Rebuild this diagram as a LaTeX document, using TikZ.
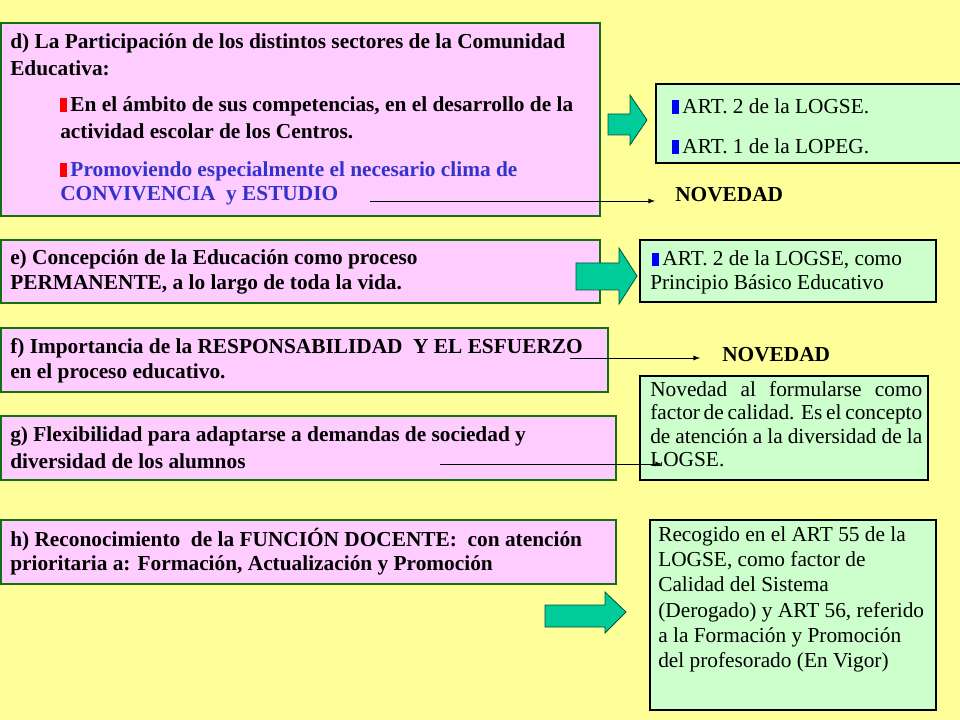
\documentclass[tikz,border=0pt]{standalone}
\usepackage{fontspec}
\setmainfont{Liberation Serif}
\definecolor{bgy}{RGB}{255,255,153}
\definecolor{pinkf}{RGB}{255,204,255}
\definecolor{greenf}{RGB}{204,255,204}
\definecolor{gborder}{RGB}{20,110,20}
\definecolor{teal}{RGB}{0,204,153}
\definecolor{purp}{RGB}{51,51,204}
\begin{document}
\begin{tikzpicture}[x=0.75pt,y=-0.75pt,
  pbox/.style={draw=gborder,line width=2.2pt,fill=pinkf},
  gbox/.style={draw=black,line width=1.5pt,fill=greenf},
  txt/.style={anchor=west,inner sep=0pt,font=\fontsize{16}{18}\selectfont\bfseries},
  rtxt/.style={anchor=west,inner sep=0pt,font=\fontsize{16}{18}\selectfont},
  fat/.style={fill=teal,draw=black!60!teal,line width=0.6pt},
  thin/.style={-latex,line width=0.7pt}]
\fill[bgy] (0,0) rectangle (960,720);
\useasboundingbox (0,0) rectangle (960,720);
\newcommand{\rb}{\textcolor{red}{\rule[-0.5pt]{5pt}{10pt}}\,}
\newcommand{\bb}{\textcolor{blue}{\rule[-0.5pt]{5pt}{10pt}}\,}
% boxes
\draw[pbox] (1,23) rectangle (600,216);
\draw[pbox] (1,240) rectangle (600,303);
\draw[pbox] (1,328) rectangle (608,392);
\draw[pbox] (1,416) rectangle (616,480);
\draw[pbox] (1,520) rectangle (616,584);
\draw[gbox] (656,84) rectangle (962,163);
\draw[gbox] (640,240) rectangle (936,302);
\draw[gbox] (640,376) rectangle (928,480);
\draw[gbox] (650,520) rectangle (936,710);
% fat arrows
\draw[fat] (608,114)--(630,114)--(630,95)--(647,120)--(630,145)--(630,135)--(608,135)--cycle;
\draw[fat] (576,263)--(619,263)--(619,248)--(637,276)--(619,304)--(619,290)--(576,290)--cycle;
\draw[fat] (545,605)--(605,605)--(605,592)--(626,612)--(605,633)--(605,627)--(545,627)--cycle;
% d texts
\node[txt] (d1) at (10,43) {d) La Participación de los distintos sectores de la Comunidad};
\node[txt] (d2) at (10,68) {Educativa:};
\node[txt] (d3) at (60,106) {\rb En el ámbito de sus competencias, en el desarrollo de la};
\node[txt] (d4) at (60,131) {actividad escolar de los Centros.};
\node[txt,text=purp] (d5) at (60,171) {\rb Promoviendo especialmente el necesario clima de};
\node[txt,text=purp] (d6) at (60,196) {CONVIVENCIA \ y ESTUDIO};
\node[rtxt] (r1) at (672,106) {\bb ART. 2 de la LOGSE.};
\node[rtxt] (r2) at (672,146) {\bb ART. 1 de la LOPEG.};
\node[txt] (nov1) at (675,195) {NOVEDAD};
\coordinate (a1) at (370,201);
\coordinate (b1) at (655,201);
\draw[thin] (a1) -- (b1);
% e
\node[txt] (e1) at (10,259) {e) Concepción de la Educación como proceso};
\node[txt] (e2) at (10,284) {PERMANENTE, a lo largo de toda la vida.};
\node[rtxt] (re1) at (652,260) {\bb ART. 2 de la LOGSE, como};
\node[rtxt] (re2) at (650,284) {Principio Básico Educativo};
% f
\node[txt] (f1) at (10,348) {f) Importancia de la RESPONSABILIDAD \ Y EL ESFUERZO};
\node[txt] (f2) at (10,373) {en el proceso educativo.};
\node[txt] (nov2) at (722,355) {NOVEDAD};
\coordinate (a2) at (570,358);
\coordinate (b2) at (700,358);
\draw[thin] (a2) -- (b2);
\node[rtxt,anchor=north west,text width=204pt,align=justify,font=\fontsize{16}{17.6}\selectfont] (rf) at (650,381)
 {Novedad al formularse como factor de calidad. Es el concepto de atención a la diversidad de la LOGSE.};
% g
\node[txt] (g1) at (10,436) {g) Flexibilidad para adaptarse a demandas de sociedad y};
\node[txt] (g2) at (10,461) {diversidad de los alumnos};
\coordinate (a3) at (440,464);
\coordinate (b3) at (662,464);
\draw[thin] (a3) -- (b3);
% h
\node[txt] (h1) at (10,540) {h) Reconocimiento \ de la FUNCIÓN DOCENTE: \ con atención};
\node[txt] (h2) at (10,565) {prioritaria a: Formación, Actualización y Promoción};
\node[rtxt,anchor=north west,align=left,font=\fontsize{16}{19}\selectfont] (rh) at (658,526)
 {Recogido en el ART 55 de la\\LOGSE, como factor de\\Calidad del Sistema\\(Derogado) y ART 56, referido\\a la Formación y Promoción\\del profesorado (En Vigor)};
\end{tikzpicture}
\end{document}
